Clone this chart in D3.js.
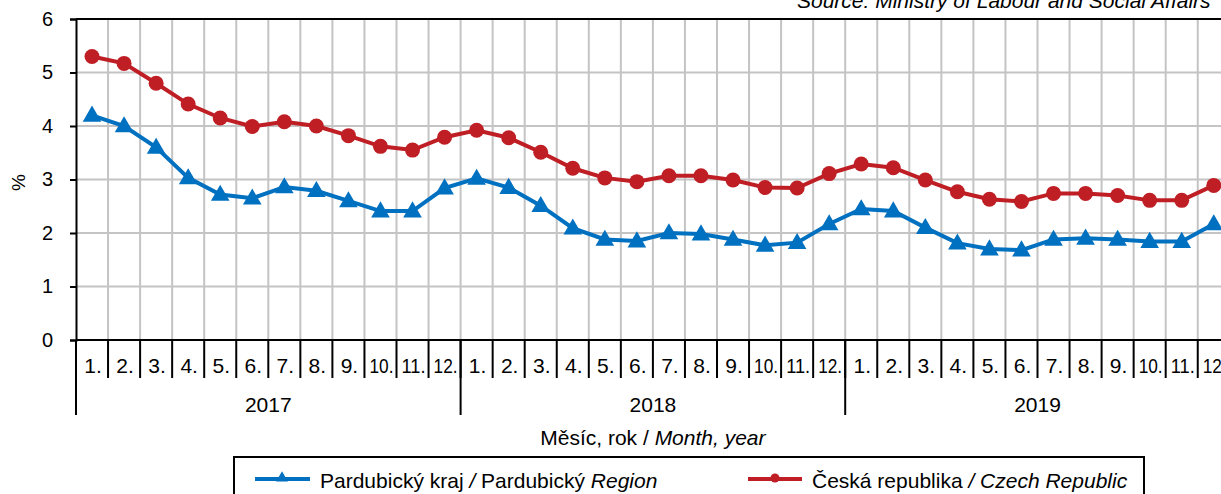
<!DOCTYPE html>
<html>
<head>
<meta charset="utf-8">
<script src="https://cdn.jsdelivr.net/npm/d3@7"></script>
<style>
  body { margin: 0; background: #fff; }
  svg { display: block; font-family: "Liberation Sans", Arial, sans-serif; }
</style>
</head>
<body>
<div id="chart"></div>
<script>
// unemployment share, Pardubice region vs Czech Republic, 2017-2019
const years = ["2017", "2018", "2019"];
const months = ["1.", "2.", "3.", "4.", "5.", "6.", "7.", "8.", "9.", "10.", "11.", "12."];
const yTicks = [0, 1, 2, 3, 4, 5, 6];

const pardubice = [
  4.2, 4.0, 3.6, 3.03, 2.72, 2.65, 2.86, 2.79, 2.6, 2.41, 2.41, 2.84,
  3.02, 2.85, 2.51, 2.09, 1.88, 1.85, 2.0, 1.98, 1.88, 1.77, 1.82, 2.17,
  2.45, 2.41, 2.1, 1.81, 1.7, 1.68, 1.88, 1.9, 1.88, 1.84, 1.84, 2.17
];
const czech = [
  5.3, 5.17, 4.8, 4.41, 4.15, 3.99, 4.08, 4.0, 3.82, 3.62, 3.55, 3.79,
  3.92, 3.78, 3.51, 3.21, 3.03, 2.96, 3.07, 3.07, 2.99, 2.85, 2.84, 3.11,
  3.29, 3.22, 2.99, 2.77, 2.63, 2.59, 2.74, 2.74, 2.7, 2.61, 2.61, 2.89
];

const width = 1221, height = 494;
const plotLeft = 76, plotRight = 1229.8, plotTop = 19, plotBottom = 340;
const blue = "#0070c0", red = "#be1e24", grid = "#c4c4c4";
const fs = 21;

const cats = [];
years.forEach(function(yr) { months.forEach(function(m) { cats.push(yr + "-" + m); }); });

const x = d3.scaleBand().domain(cats).range([plotLeft, plotRight]);
const y = d3.scaleLinear().domain([0, 6]).range([plotBottom, plotTop]);
const cx = function(d, i) { return x(cats[i]) + x.bandwidth() / 2; };

const svg = d3.select("#chart").append("svg")
  .attr("width", width).attr("height", height);

// gridlines
svg.append("g").selectAll("line")
  .data(yTicks.slice(1))
  .join("line")
  .attr("x1", plotLeft).attr("x2", plotRight)
  .attr("y1", function(d) { return y(d); }).attr("y2", function(d) { return y(d); })
  .attr("stroke", grid).attr("stroke-width", 2);

svg.append("g").selectAll("line")
  .data(cats.slice(1))
  .join("line")
  .attr("x1", function(d) { return x(d); }).attr("x2", function(d) { return x(d); })
  .attr("y1", plotTop).attr("y2", plotBottom)
  .attr("stroke", grid).attr("stroke-width", 2);

// top border
svg.append("line")
  .attr("x1", plotLeft).attr("x2", plotRight).attr("y1", plotTop).attr("y2", plotTop)
  .attr("stroke", "#000").attr("stroke-width", 2);

// y axis
const yAxis = svg.append("g")
  .attr("transform", "translate(" + plotLeft + ",0)")
  .call(d3.axisLeft(y).tickValues(yTicks).tickSize(6).tickPadding(17).tickFormat(d3.format("d")));
yAxis.select(".domain").attr("stroke", "#000").attr("stroke-width", 2);
yAxis.selectAll(".tick line").attr("stroke", "#000").attr("stroke-width", 2);
yAxis.selectAll("text").attr("font-size", 20).attr("fill", "#000")
  .attr("font-family", "Liberation Sans, Arial, sans-serif");

svg.append("text")
  .attr("transform", "translate(25," + (y(3) + 3) + ") rotate(-90)")
  .attr("text-anchor", "middle")
  .attr("font-size", 19)
  .text("%");

// x axis line
svg.append("line")
  .attr("x1", plotLeft).attr("x2", plotRight).attr("y1", plotBottom).attr("y2", plotBottom)
  .attr("stroke", "#000").attr("stroke-width", 2);

// month ticks and labels
svg.append("g").selectAll("line")
  .data(cats)
  .join("line")
  .attr("x1", function(d) { return x(d); }).attr("x2", function(d) { return x(d); })
  .attr("y1", plotBottom).attr("y2", 378)
  .attr("stroke", "#000").attr("stroke-width", 2);

svg.append("g").selectAll("text")
  .data(cats)
  .join("text")
  .attr("x", function(d) { return x(d) + x.bandwidth() / 2 + 1; })
  .attr("y", 373)
  .attr("text-anchor", "middle")
  .attr("font-size", fs)
  .each(function(d) {
    const label = d.split("-")[1];
    const t = d3.select(this).text(label);
    if (label.length > 2) {
      t.attr("textLength", 24).attr("lengthAdjust", "spacingAndGlyphs");
    }
  });

// year separators and labels
svg.append("g").selectAll("line")
  .data(years.concat(["end"]))
  .join("line")
  .attr("x1", function(d, i) { return plotLeft + i * 12 * x.step(); })
  .attr("x2", function(d, i) { return plotLeft + i * 12 * x.step(); })
  .attr("y1", plotBottom).attr("y2", 415)
  .attr("stroke", "#000").attr("stroke-width", 2);

svg.append("g").selectAll("text")
  .data(years)
  .join("text")
  .attr("x", function(d, i) { return plotLeft + (i * 12 + 6) * x.step(); })
  .attr("y", 412)
  .attr("text-anchor", "middle")
  .attr("font-size", fs)
  .text(function(d) { return d; });

const xTitle = svg.append("text")
  .attr("x", (plotLeft + plotRight) / 2)
  .attr("y", 445)
  .attr("text-anchor", "middle")
  .attr("font-size", fs);
xTitle.append("tspan").text("Měsíc, rok / ");
xTitle.append("tspan").attr("font-style", "italic").text("Month, year");

// source
svg.append("text")
  .attr("x", 797)
  .attr("y", 8)
  .attr("font-size", fs)
  .attr("font-style", "italic")
  .text("Source: Ministry of Labour and Social Affairs");

// series
const line = d3.line()
  .x(cx)
  .y(function(d) { return y(d); });

svg.append("path").datum(czech)
  .attr("d", line).attr("fill", "none").attr("stroke", red).attr("stroke-width", 4);
svg.append("g").selectAll("circle")
  .data(czech)
  .join("circle")
  .attr("cx", cx)
  .attr("cy", function(d) { return y(d); })
  .attr("r", 7.5)
  .attr("fill", red);

svg.append("path").datum(pardubice)
  .attr("d", line).attr("fill", "none").attr("stroke", blue).attr("stroke-width", 4);
svg.append("g").selectAll("path")
  .data(pardubice)
  .join("path")
  .attr("d", d3.symbol().type(d3.symbolTriangle).size(150))
  .attr("transform", function(d, i) {
    return "translate(" + cx(d, i) + "," + (y(d) + 1) + ")";
  })
  .attr("fill", blue);

// legend
const legend = svg.append("g");
legend.append("rect")
  .attr("x", 234).attr("y", 457).attr("width", 910).attr("height", 50)
  .attr("fill", "#fff").attr("stroke", "#000").attr("stroke-width", 2);

legend.append("line")
  .attr("x1", 255).attr("x2", 310).attr("y1", 479).attr("y2", 479)
  .attr("stroke", blue).attr("stroke-width", 4);
legend.append("path")
  .attr("d", d3.symbol().type(d3.symbolTriangle).size(60))
  .attr("transform", "translate(282,478)")
  .attr("fill", blue);
const t1 = legend.append("text").attr("x", 320).attr("y", 488).attr("font-size", fs);
t1.append("tspan").text("Pardubický kraj ");
t1.append("tspan").attr("font-style", "italic").text("/ ");
t1.append("tspan").text("Pardubický ");
t1.append("tspan").attr("font-style", "italic").text("Region");

legend.append("line")
  .attr("x1", 748).attr("x2", 802).attr("y1", 479).attr("y2", 479)
  .attr("stroke", red).attr("stroke-width", 4);
legend.append("circle")
  .attr("cx", 775).attr("cy", 478).attr("r", 4.5)
  .attr("fill", red);
const t2 = legend.append("text").attr("x", 812).attr("y", 488).attr("font-size", fs);
t2.append("tspan").text("Česká republika ");
t2.append("tspan").attr("font-style", "italic").text("/ Czech Republic");
</script>
</body>
</html>
